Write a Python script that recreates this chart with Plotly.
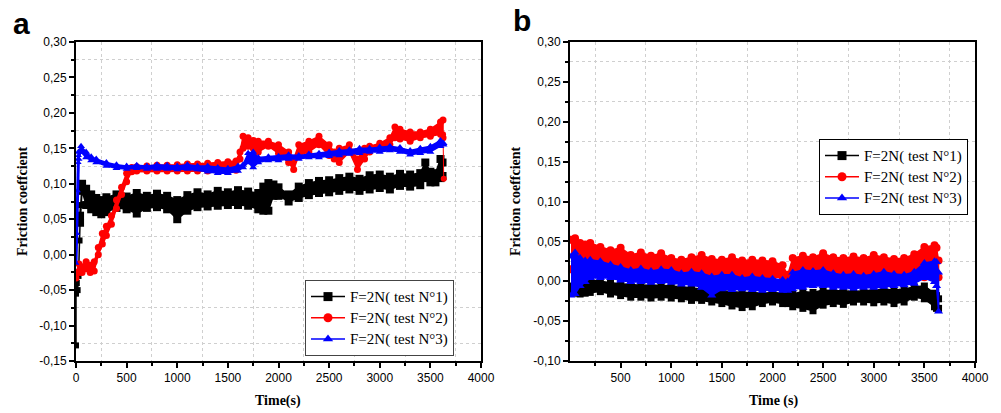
import plotly.graph_objects as go

# ---------------- panel a ----------------
A_BLACK_T = [40, 60, 100, 150, 200, 250, 300, 400, 500, 600, 700, 800, 900, 1000, 1100, 1200,
             1300, 1400, 1500, 1600, 1700, 1800, 1850, 1900, 1950, 2000, 2100, 2200, 2300, 2400,
             2500, 2600, 2700, 2800, 2900, 3000, 3100, 3200, 3300, 3400, 3450, 3500, 3550, 3600, 3620]
A_BLACK_HI = [0.055, 0.1, 0.093, 0.085, 0.08, 0.077, 0.081, 0.085, 0.082, 0.087, 0.083, 0.086, 0.083,
              0.077, 0.084, 0.088, 0.085, 0.09, 0.088, 0.091, 0.089, 0.087, 0.096, 0.101, 0.099, 0.095,
              0.085, 0.096, 0.101, 0.104, 0.105, 0.108, 0.11, 0.107, 0.112, 0.113, 0.11, 0.114, 0.113,
              0.115, 0.13, 0.117, 0.115, 0.135, 0.13]
A_BLACK_LO = [0.045, 0.09, 0.07, 0.064, 0.06, 0.057, 0.06, 0.066, 0.064, 0.058, 0.066, 0.067, 0.064,
              0.05, 0.062, 0.067, 0.068, 0.069, 0.07, 0.07, 0.069, 0.064, 0.062, 0.062, 0.083, 0.083,
              0.075, 0.08, 0.084, 0.087, 0.088, 0.09, 0.092, 0.09, 0.092, 0.094, 0.092, 0.097, 0.096,
              0.098, 0.108, 0.102, 0.102, 0.108, 0.111]
A_BLACK_HEAD_T = [0, 0, 8, 16, 25, 35, 45]
A_BLACK_HEAD_V = [-0.128, -0.055, -0.04, -0.05, -0.03, 0.02, 0.07]

A_RED_T = [0, 30, 60, 100, 140, 180, 220, 260, 300, 350, 400, 450, 500, 550, 600, 700, 800, 900,
           1000, 1100, 1200, 1300, 1400, 1500, 1580, 1620, 1650, 1700, 1750, 1800, 1900, 2000, 2100,
           2150, 2200, 2300, 2400, 2500, 2550, 2600, 2700, 2780, 2850, 2900, 3000, 3100, 3150, 3200,
           3300, 3400, 3500, 3600, 3625]
A_RED_HI = [-0.025, -0.013, -0.017, -0.01, -0.015, -0.01, 0.01, 0.03, 0.04, 0.055, 0.077, 0.095,
            0.115, 0.123, 0.124, 0.125, 0.126, 0.126, 0.127, 0.128, 0.128, 0.129, 0.13, 0.131, 0.132,
            0.145, 0.167, 0.165, 0.161, 0.16, 0.16, 0.155, 0.145, 0.135, 0.155, 0.16, 0.167, 0.155,
            0.145, 0.15, 0.155, 0.135, 0.15, 0.153, 0.157, 0.165, 0.18, 0.177, 0.173, 0.173, 0.177,
            0.187, 0.19]
A_RED_LO = [-0.033, -0.025, -0.025, -0.02, -0.025, -0.023, 0.0, 0.015, 0.027, 0.043, 0.065, 0.085,
            0.103, 0.117, 0.118, 0.118, 0.118, 0.118, 0.118, 0.118, 0.118, 0.118, 0.118, 0.118, 0.119,
            0.135, 0.15, 0.153, 0.15, 0.145, 0.153, 0.143, 0.13, 0.12, 0.14, 0.145, 0.155, 0.14,
            0.135, 0.13, 0.145, 0.12, 0.135, 0.145, 0.15, 0.155, 0.165, 0.163, 0.16, 0.165, 0.167,
            0.17, 0.165]
A_RED_TAIL_T = [3625, 3632]
A_RED_TAIL_V = [0.17, 0.107]

A_BLUE_T = [25, 50, 100, 150, 200, 300, 400, 500, 600, 700, 800, 900, 1000, 1100, 1200, 1300, 1400,
            1500, 1600, 1650, 1700, 1750, 1800, 1900, 2000, 2100, 2200, 2300, 2400, 2500, 2600, 2700,
            2800, 2900, 3000, 3100, 3200, 3300, 3400, 3500, 3600, 3630]
A_BLUE_HI = [0.145, 0.153, 0.145, 0.138, 0.135, 0.13, 0.127, 0.125, 0.126, 0.125, 0.127, 0.126, 0.125,
             0.127, 0.125, 0.125, 0.123, 0.122, 0.125, 0.127, 0.143, 0.145, 0.137, 0.138, 0.139, 0.141,
             0.14, 0.142, 0.143, 0.145, 0.147, 0.148, 0.15, 0.15, 0.152, 0.153, 0.151, 0.147, 0.15,
             0.153, 0.161, 0.157]
A_BLUE_LO = [0.135, 0.145, 0.137, 0.133, 0.13, 0.125, 0.122, 0.121, 0.122, 0.121, 0.121, 0.121, 0.12,
             0.121, 0.12, 0.117, 0.115, 0.115, 0.118, 0.123, 0.13, 0.123, 0.13, 0.133, 0.133, 0.135,
             0.135, 0.137, 0.137, 0.139, 0.14, 0.142, 0.143, 0.145, 0.145, 0.147, 0.145, 0.141, 0.143,
             0.145, 0.153, 0.155]
A_BLUE_HEAD_T = [0, 8, 15, 22, 25]
A_BLUE_HEAD_V = [-0.012, 0.03, 0.09, 0.13, 0.14]

# ---------------- panel b ----------------
B_T = [10, 50, 100, 150, 200, 300, 400, 500, 600, 700, 800, 900, 1000, 1100, 1200, 1300, 1400, 1500,
       1600, 1700, 1800, 1900, 2000, 2100, 2150, 2200, 2300, 2400, 2500, 2600, 2700, 2800, 2900, 3000,
       3100, 3200, 3300, 3400, 3500, 3600, 3620, 3640]
B_RED_HI = [0.052, 0.054, 0.048, 0.046, 0.048, 0.043, 0.039, 0.042, 0.033, 0.036, 0.032, 0.035, 0.029,
            0.027, 0.03, 0.033, 0.028, 0.027, 0.03, 0.026, 0.027, 0.026, 0.025, 0.02, 0.008, 0.029,
            0.032, 0.03, 0.035, 0.03, 0.029, 0.031, 0.029, 0.033, 0.03, 0.028, 0.029, 0.034, 0.043,
            0.045, 0.042, 0.026]
B_RED_LO = [0.015, 0.015, 0.015, 0.015, 0.015, 0.015, 0.015, 0.015, 0.005, 0.005, 0.005, 0.005, 0.005,
            0.005, 0.005, 0.005, 0.005, 0.005, 0.005, 0.005, 0.005, 0.005, 0.005, 0.005, -0.005, 0.0,
            0.0, 0.0, 0.0, 0.0, 0.0, 0.0, 0.0, 0.0, 0.0, 0.0, 0.0, 0.005, 0.005, 0.005, 0.005, 0.005]
B_BLUE_HI = [0.031, 0.036, 0.029, 0.026, 0.027, 0.025, 0.021, 0.018, 0.014, 0.016, 0.013, 0.015, 0.014,
             0.01, 0.012, 0.01, 0.006, 0.008, 0.008, 0.004, 0.006, 0.004, 0.003, 0.002, 0.0, 0.011,
             0.014, 0.013, 0.014, 0.01, 0.008, 0.009, 0.007, 0.009, 0.012, 0.009, 0.008, 0.012, 0.023,
             0.025, 0.024, 0.011]
B_BLUE_LO = [-0.018, -0.016, -0.006, -0.001, 0.004, 0.004, 0.004, 0.001, -0.001, -0.001, -0.002, -0.001,
             -0.002, -0.004, -0.004, -0.008, -0.018, -0.01, -0.011, -0.01, -0.011, -0.012, -0.011,
             -0.012, -0.012, -0.01, -0.008, -0.006, -0.006, -0.008, -0.008, -0.009, -0.008, -0.008,
             -0.007, -0.006, -0.005, -0.003, 0.004, -0.001, -0.006, -0.038]
B_BLACK_HI = [-0.006, -0.004, 0.0, 0.002, 0.002, 0.0, -0.002, -0.003, -0.004, -0.005, -0.005, -0.005,
              -0.006, -0.007, -0.008, -0.01, -0.012, -0.012, -0.013, -0.014, -0.014, -0.015, -0.014,
              -0.015, -0.015, -0.016, -0.013, -0.014, -0.011, -0.012, -0.012, -0.013, -0.012, -0.011,
              -0.01, -0.011, -0.01, -0.007, -0.006, -0.015, -0.018, -0.022]
B_BLACK_LO = [-0.014, -0.015, -0.016, -0.015, -0.014, -0.013, -0.016, -0.018, -0.02, -0.02, -0.021,
              -0.02, -0.021, -0.022, -0.024, -0.024, -0.026, -0.028, -0.031, -0.033, -0.032, -0.028,
              -0.026, -0.028, -0.028, -0.032, -0.034, -0.037, -0.03, -0.028, -0.029, -0.026, -0.026,
              -0.027, -0.026, -0.028, -0.026, -0.02, -0.022, -0.032, -0.034, -0.034]

SERIES_NAMES = ["F=2N( test N°1)", "F=2N( test N°2)", "F=2N( test N°3)"]
COLORS = ["#000000", "#ff0000", "#0000ff"]
SYMBOLS = ["square", "circle", "triangle-up"]

X_TICKS_A = [0, 500, 1000, 1500, 2000, 2500, 3000, 3500, 4000]
X_LABELS_A = ["0", "500", "1000", "1500", "2000", "2500", "3000", "3500", "4000"]
X_TICKS_B = [500, 1000, 1500, 2000, 2500, 3000, 3500, 4000]
X_LABELS_B = ["500", "1000", "1500", "2000", "2500", "3000", "3500", "4000"]
X_MINOR = [250, 750, 1250, 1750, 2250, 2750, 3250, 3750]
Y_TICKS_A = [-0.15, -0.10, -0.05, 0.0, 0.05, 0.10, 0.15, 0.20, 0.25, 0.30]
Y_LABELS_A = ["-0,15", "-0,10", "-0,05", "0,00", "0,05", "0,10", "0,15", "0,20", "0,25", "0,30"]
Y_MINOR_A = [-0.125, -0.075, -0.025, 0.025, 0.075, 0.125, 0.175, 0.225, 0.275]
Y_TICKS_B = [-0.10, -0.05, 0.0, 0.05, 0.10, 0.15, 0.20, 0.25, 0.30]
Y_LABELS_B = ["-0,10", "-0,05", "0,00", "0,05", "0,10", "0,15", "0,20", "0,25", "0,30"]
Y_MINOR_B = [-0.075, -0.025, 0.025, 0.075, 0.125, 0.175, 0.225, 0.275]

SANS = "Liberation Sans"
SERIF = "Liberation Serif"
MS = 7

fig = go.Figure()


def band(t, hi, lo, i, xa, ya, ms=MS):
    x = list(t) + list(reversed(t))
    y = list(hi) + list(reversed(lo))
    fig.add_trace(go.Scatter(
        x=x, y=y, mode="lines+markers", fill="toself", fillcolor=COLORS[i],
        line=dict(color=COLORS[i], width=1.5),
        marker=dict(symbol=SYMBOLS[i], size=ms, color=COLORS[i], line=dict(width=0)),
        showlegend=False, hoverinfo="skip", xaxis=xa, yaxis=ya))


def line(t, v, i, xa, ya, w=1.5):
    fig.add_trace(go.Scatter(
        x=t, y=v, mode="lines+markers", line=dict(color=COLORS[i], width=w),
        marker=dict(symbol=SYMBOLS[i], size=MS - 1, color=COLORS[i], line=dict(width=0)),
        showlegend=False, hoverinfo="skip", xaxis=xa, yaxis=ya))


# panel a
line(A_BLACK_HEAD_T, A_BLACK_HEAD_V, 0, "x", "y")
band(A_BLACK_T, A_BLACK_HI, A_BLACK_LO, 0, "x", "y", ms=8)
band(A_RED_T, A_RED_HI, A_RED_LO, 1, "x", "y")
line(A_RED_TAIL_T, A_RED_TAIL_V, 1, "x", "y", w=1)
line(A_BLUE_HEAD_T, A_BLUE_HEAD_V, 2, "x", "y", w=3)
band(A_BLUE_T, A_BLUE_HI, A_BLUE_LO, 2, "x", "y")

# panel b
band(B_T, B_BLACK_HI, B_BLACK_LO, 0, "x2", "y2")
band(B_T, B_RED_HI, B_RED_LO, 1, "x2", "y2", ms=8)
band(B_T, B_BLUE_HI, B_BLUE_LO, 2, "x2", "y2", ms=8)

# legend entries
for lg, xa, ya in (("legend2", "x", "y"), ("legend3", "x2", "y2")):
    for i in range(3):
        fig.add_trace(go.Scatter(
            x=[None], y=[None], mode="lines+markers",
            name='<span style="font-size:15px">' + SERIES_NAMES[i] + "</span>",
            line=dict(color=COLORS[i], width=1.5),
            marker=dict(symbol=SYMBOLS[i], size=9, color=COLORS[i]),
            legend=lg, xaxis=xa, yaxis=ya))

W, H = 1001, 413


def px_x(p):
    return p / W


def px_y(p):
    return 1 - p / H


axis_common = dict(
    showline=True, linecolor="black", linewidth=2, mirror=True, automargin=False,
    ticks="outside", ticklen=5, tickwidth=1.5, tickcolor="black",
    showgrid=False, zeroline=False,
    tickfont=dict(family=SANS, size=12, color="black"),
)


def minor(vals):
    return dict(tickmode="array", tickvals=vals, ticks="outside", ticklen=3,
                tickcolor="black", showgrid=True, gridcolor="#cfcfcf", griddash="dot",
                gridwidth=1)


legend_font = dict(family=SERIF, size=14, color="black")

fig.update_layout(
    width=W, height=H,
    font=dict(family=SERIF, size=14, color="black"),
    margin=dict(l=0, r=0, t=0, b=0, autoexpand=False),
    paper_bgcolor="white", plot_bgcolor="white",
    xaxis=dict(domain=[px_x(76), px_x(481)], range=[0, 4000], anchor="y",
               tickmode="array", tickvals=X_TICKS_A, ticktext=X_LABELS_A,
               minor=minor(X_MINOR), **axis_common),
    yaxis=dict(domain=[px_y(361), px_y(42)], range=[-0.15, 0.30], anchor="x",
               tickmode="array", tickvals=Y_TICKS_A, ticktext=Y_LABELS_A,
               minor=minor(Y_MINOR_A), **axis_common),
    xaxis2=dict(domain=[px_x(570), px_x(975)], range=[0, 4000], anchor="y2",
                tickmode="array", tickvals=X_TICKS_B, ticktext=X_LABELS_B,
                minor=minor(X_MINOR), **axis_common),
    yaxis2=dict(domain=[px_y(361), px_y(42)], range=[-0.10, 0.30], anchor="x2",
                tickmode="array", tickvals=Y_TICKS_B, ticktext=Y_LABELS_B,
                minor=minor(Y_MINOR_B), **axis_common),
    legend2=dict(x=px_x(305), y=px_y(280), xanchor="left", yanchor="top",
                 bgcolor="white", bordercolor="#444444", borderwidth=1, itemwidth=34,
                 font=legend_font, tracegroupgap=0),
    legend3=dict(x=px_x(819), y=px_y(139), xanchor="left", yanchor="top",
                 bgcolor="white", bordercolor="#000000", borderwidth=1, itemwidth=34,
                 font=legend_font, tracegroupgap=0),
    annotations=[
        dict(text="<b>a</b>", x=px_x(11), y=px_y(23), xref="paper", yref="paper", showarrow=False,
             xanchor="left", yanchor="middle", font=dict(family=SANS, size=30, color="black")),
        dict(text="<b>b</b>", x=px_x(511), y=px_y(21), xref="paper", yref="paper", showarrow=False,
             xanchor="left", yanchor="middle", font=dict(family=SANS, size=30, color="black")),
        dict(text="<b>Friction coeffcient</b>", x=px_x(22), y=px_y(201), xref="paper",
             yref="paper", showarrow=False, textangle=-90, xanchor="center", yanchor="middle",
             font=dict(family=SERIF, size=14, color="black")),
        dict(text="<b>Friction coeffcient</b>", x=px_x(515), y=px_y(201), xref="paper",
             yref="paper", showarrow=False, textangle=-90, xanchor="center", yanchor="middle",
             font=dict(family=SERIF, size=14, color="black")),
        dict(text="<b>Time(s)</b>", x=px_x(278), y=px_y(401), xref="paper", yref="paper",
             showarrow=False, xanchor="center", yanchor="middle",
             font=dict(family=SERIF, size=14, color="black")),
        dict(text="<b>Time (s)</b>", x=px_x(773), y=px_y(401), xref="paper", yref="paper",
             showarrow=False, xanchor="center", yanchor="middle",
             font=dict(family=SERIF, size=14, color="black")),
    ],
)

fig.write_html("out.html")
